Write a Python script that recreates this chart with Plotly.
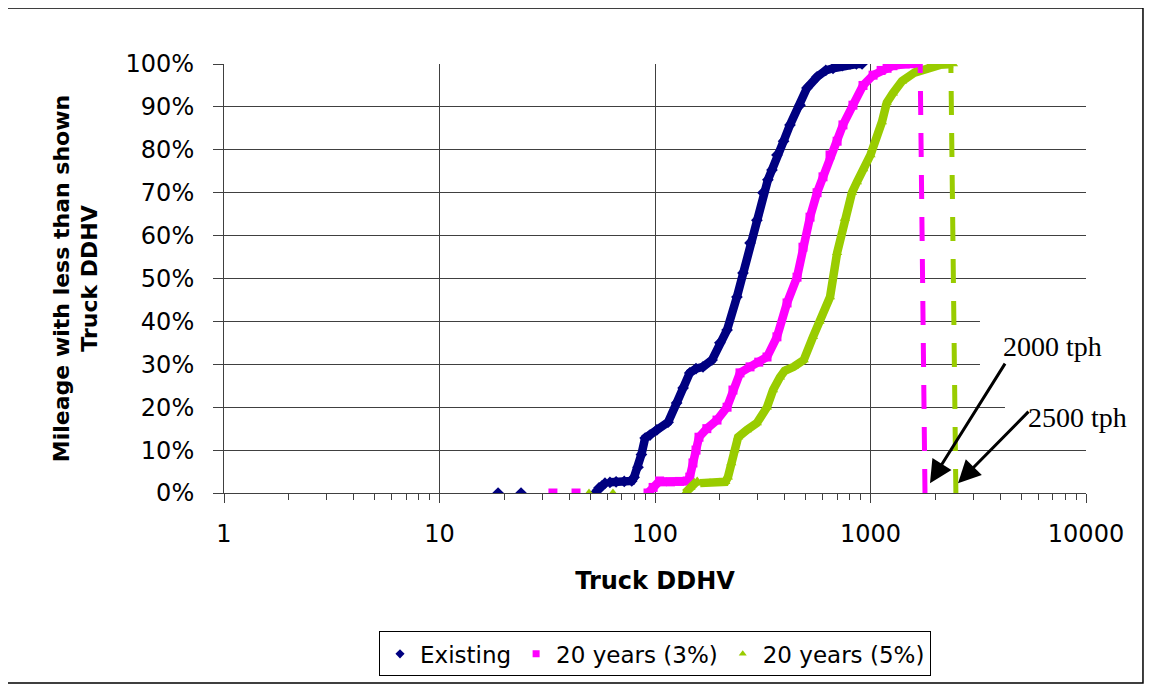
import math
import plotly.graph_objects as go

# ---------------- data ----------------
existing_x = [18.7, None, 23.9, None, 52.7, 55, 58.6, None, 61.8, 66, 72, 78, 80, 83.4, 86.5, 90, 94.8,
              102, 115, 126, 135, 145, 155, 167, 184, 200, 216, 240, 256, 276, 297, 317, 334, 349,
              368, 395, 423, 471, 507, 565, 620, 670, 740, 804, 860, 914]
existing_y = [0, None, 0, None, 0, 0.012, 0.023, None, 0.025, 0.026, 0.027, 0.028, 0.037, 0.06, 0.09, 0.128, 0.135,
              0.147, 0.165, 0.21, 0.245, 0.28, 0.29, 0.294, 0.31, 0.35, 0.38, 0.457, 0.513, 0.583, 0.636, 0.70, 0.73, 0.753,
              0.788, 0.82, 0.858, 0.904, 0.944, 0.97, 0.985, 0.99, 0.996, 1.0, 1.0, 1.0]

y3_x = [33.6, None, 43, None, 92.8, 98, 105, None, 108, 118, 130, 141, 145, 150, 155, 160, 174, 194, 216,
        230, 248, 276, 303, 331, 368, 410, 456, 486, 524, 565, 602, 649, 700, 745, 829, 923, 1028,
        1120, 1194, 1271, 1450, 1660]
y3_y = [0, None, 0, None, 0, 0.013, 0.028, None, 0.026, 0.026, 0.027, 0.028, 0.037, 0.07, 0.10, 0.13, 0.15, 0.17, 0.20,
        0.24, 0.28, 0.294, 0.305, 0.317, 0.364, 0.443, 0.503, 0.573, 0.643, 0.70, 0.737, 0.788, 0.82, 0.858, 0.904, 0.95, 0.974,
        0.985, 0.99, 0.996, 1.0, 1.0]

y5_x = [49.4, None, 63.8, None, 138, 146, 157, None, 162, 180, 200, 212, 218, 226, 234, 243, 267, 297, 331,
        353, 380, 400, 440, 490, 541, 580, 649, 700, 760, 820, 865, 925, 1000, 1130, 1190, 1271,
        1400, 1600, 1850, 2102, 2415]
y5_y = [0, None, 0, None, 0, 0.013, 0.028, None, 0.023, 0.024, 0.025, 0.026, 0.037, 0.07, 0.10, 0.13, 0.147, 0.163, 0.20,
        0.24, 0.27, 0.285, 0.294, 0.31, 0.364, 0.40, 0.457, 0.56, 0.64, 0.70, 0.725, 0.755, 0.788, 0.865, 0.91, 0.932,
        0.96, 0.98, 0.992, 0.998, 1.0]

cap3_x = [1790, 1700]
cap5_x = [2490, 2360]
cap_y = [0, 1]

series_names = ["Existing", "20 years (3%)", "20 years (5%)"]
x_tickvals = [1, 10, 100, 1000, 10000]
x_ticktext = ["1", "10", "100", "1000", "10000"]
arrow_labels = ["2000 tph", "2500 tph"]
arrow_tips = [1888, 2547]

NAVY = "#000080"
MAG = "#FF00FF"
GRN = "#99CC00"
FONT = "DejaVu Sans, Arial, sans-serif"
SERIF = "Liberation Serif, Times New Roman, serif"

fig = go.Figure()

for xs, ys, col, sym, nm in [
    (existing_x, existing_y, NAVY, "diamond", series_names[0]),
    (y3_x, y3_y, MAG, "square", series_names[1]),
    (y5_x, y5_y, GRN, "triangle-up", series_names[2]),
]:
    fig.add_trace(go.Scatter(x=xs, y=ys, mode="lines+markers", connectgaps=False,
                             line=dict(color=col, width=8.5),
                             marker=dict(color=col, symbol=sym, size=9),
                             showlegend=False, hoverinfo="skip"))

fig.add_trace(go.Scatter(x=cap3_x, y=cap_y, mode="lines", showlegend=False,
                         line=dict(color=MAG, width=5, dash="24px,18px")))
fig.add_trace(go.Scatter(x=cap5_x, y=cap_y, mode="lines", showlegend=False,
                         line=dict(color=GRN, width=5, dash="24px,18px")))

# legend-only entries
for col, sym, nm in [(NAVY, "diamond", series_names[0]), (MAG, "square", series_names[1]),
                     (GRN, "triangle-up", series_names[2])]:
    fig.add_trace(go.Scatter(x=[None], y=[None], mode="markers", name=nm,
                             marker=dict(color=col, symbol=sym, size=7)))

GRID = "#404040"
fig.update_layout(
    width=1144, height=682,
    margin=dict(l=216, r=66, t=56, b=197),
    paper_bgcolor="white", plot_bgcolor="white",
    font=dict(family=FONT, size=23, color="black"),
    xaxis=dict(type="log", range=[0, 4], tickmode="array", tickvals=x_tickvals, ticktext=x_ticktext,
               showgrid=True, gridcolor=GRID, gridwidth=1,
               showline=True, linecolor=GRID, linewidth=1,
               ticks="outside", ticklen=9, tickcolor=GRID, ticklabelstandoff=10,
               tickfont=dict(size=24),
               minor=dict(ticks="outside", ticklen=6, tickcolor=GRID, dtick="D1", showgrid=False),
               title=dict(text="<b>Truck DDHV</b>", font=dict(size=24), standoff=25),
               zeroline=False),
    yaxis=dict(range=[0, 1], dtick=0.1, tickformat=".0%",
               showgrid=True, gridcolor=GRID, gridwidth=1,
               showline=True, linecolor=GRID, linewidth=1,
               ticks="outside", ticklen=10, tickcolor=GRID, ticklabelstandoff=14,
               tickfont=dict(size=24),
               title=dict(text="<b>Mileage with less than shown<br>Truck DDHV</b>", font=dict(size=22), standoff=21),
               zeroline=False),
    legend=dict(orientation="h", x=0.5, xanchor="center", y=-0.375, yanchor="middle",
                bordercolor="black", borderwidth=1, bgcolor="white",
                font=dict(size=23), itemwidth=30),
)

# white text boxes covering grid
fig.add_shape(type="rect", xref="paper", yref="paper", x0=0.877, x1=1.0626, y0=0.2727, y1=0.4196,
              fillcolor="white", line=dict(width=0), layer="above")
fig.add_shape(type="rect", xref="paper", yref="paper", x0=0.906, x1=1.0626, y0=0.1072, y1=0.2517,
              fillcolor="white", line=dict(width=0), layer="above")
# outer frame
fig.add_shape(type="rect", xref="paper", yref="paper", x0=-0.2529, x1=1.0661, y0=-0.4429, y1=1.1305,
              line=dict(color="black", width=1.5), fillcolor="rgba(0,0,0,0)", layer="above")

# arrows
for tip, (axp, ayp) in zip(arrow_tips, [(76, -121), (72, -73)]):
    fig.add_annotation(x=math.log10(tip), y=0.023, xref="x", yref="y", text="",
                       showarrow=True, ax=axp, ay=ayp, arrowhead=2, arrowsize=1.5,
                       arrowwidth=3, arrowcolor="black")

fig.add_annotation(x=0.9617, y=0.342, xref="paper", yref="paper", text=arrow_labels[0],
                   xanchor="center", yanchor="middle",
                   showarrow=False, font=dict(family=SERIF, size=28))
fig.add_annotation(x=0.9907, y=0.177, xref="paper", yref="paper", text=arrow_labels[1],
                   xanchor="center", yanchor="middle",
                   showarrow=False, font=dict(family=SERIF, size=28))

fig.write_html("out.html")
